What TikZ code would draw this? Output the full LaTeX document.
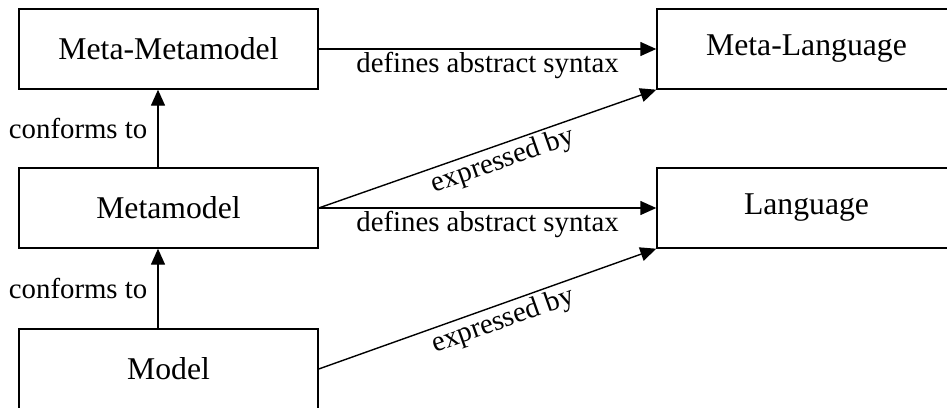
\documentclass[tikz,border=0pt]{standalone}
\usepackage{fontspec}
\setmainfont{Liberation Serif}
\usetikzlibrary{arrows.meta}
\begin{document}
\begin{tikzpicture}[x=1pt,y=-1pt,
  box/.style={draw,line width=1.4pt,minimum width=299pt,minimum height=80pt,
    inner sep=0pt,font=\fontsize{31.7}{36}\selectfont},
  arr/.style={line width=1.4pt,-{Triangle[length=16pt,width=14pt]}},
  lbl/.style={font=\fontsize{28.8}{33}\selectfont,inner sep=3pt},
  sidelbl/.style={lbl,left,inner xsep=10pt}]
\useasboundingbox (0,0) rectangle (947,407);
% model layers (left column)
\node[box] (metameta) at (168.5,49) {Meta-Metamodel};
\node[box] (metamodel) at (168.5,208) {Metamodel};
\node[box] (model) at (168.5,369) {Model};
% languages (right column)
\node[box] (metalang) at (806.5,49) {Meta-Language};
\node[box] (lang) at (806.5,208) {Language};
% conformance
\draw[arr] ([xshift=-10.5]metamodel.north) -- node[sidelbl]{conforms to} ([xshift=-10.5]metameta.south);
\draw[arr] ([xshift=-10.5]model.north) -- node[sidelbl]{conforms to} ([xshift=-10.5]metamodel.south);
% abstract syntax
\draw[arr] (metameta.east) -- node[lbl,below]{defines abstract syntax} (metalang.west);
\draw[arr] (metamodel.east) -- node[lbl,below]{defines abstract syntax} (lang.west);
% notation
\draw[arr] (metamodel.east) -- node[lbl,below,sloped,pos=0.53]{expressed by} (metalang.south west);
\draw[arr] (model.east) -- node[lbl,below,sloped,pos=0.53]{expressed by} (lang.south west);
\end{tikzpicture}
\end{document}
